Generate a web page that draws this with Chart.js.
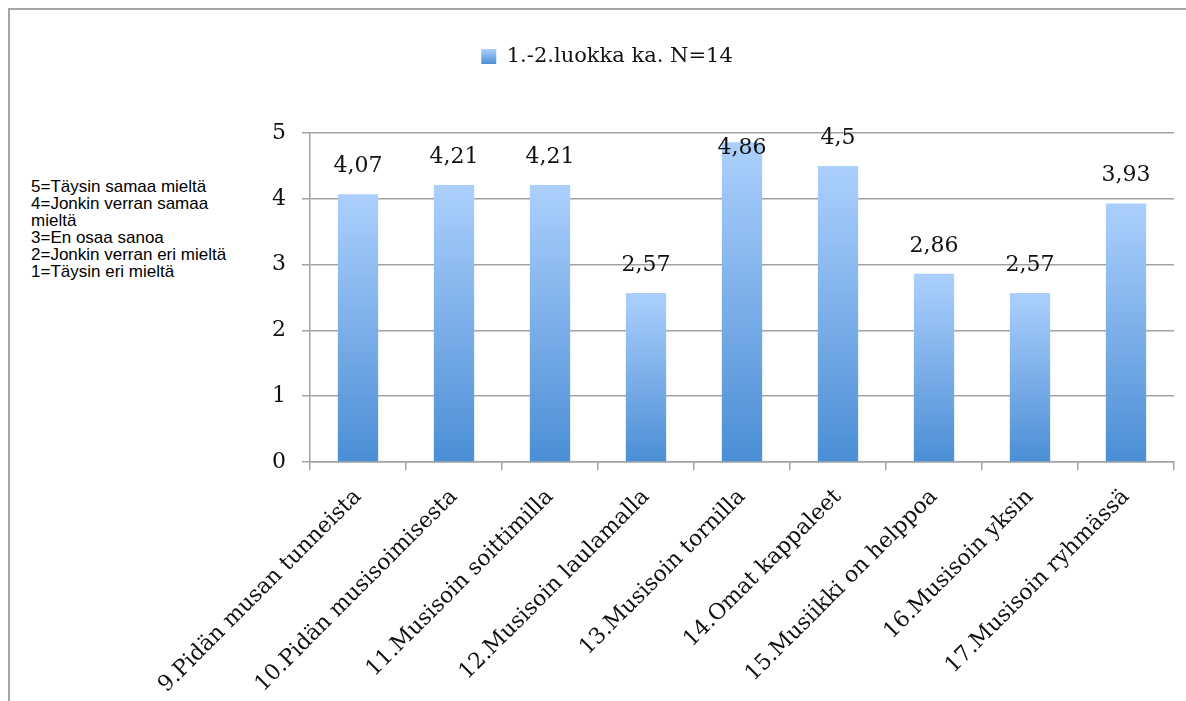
<!DOCTYPE html>
<html>
<head>
<meta charset="utf-8">
<script src="https://cdn.jsdelivr.net/npm/chart.js@4/dist/chart.umd.min.js"></script>
<style>
  html, body { margin: 0; padding: 0; background: #fff; }
  #wrap { position: relative; width: 1186px; height: 701px; overflow: hidden; }
  #frame { position: absolute; left: 8px; top: 8px; right: -10px; bottom: -10px;
           border-top: 2px solid #a6a6a6; border-left: 2px solid #a6a6a6; }
  #note { position: absolute; left: 31px; top: 178px; font-family: "Liberation Sans", Arial, sans-serif;
          font-size: 17px; line-height: 17px; color: #000; }
  canvas { position: absolute; left: 0; top: 0; }
</style>
</head>
<body>
<div id="wrap">
  <div id="frame"></div>
  <div id="note">
    5=Täysin samaa mieltä<br>
    4=Jonkin verran samaa<br>
    mieltä<br>
    3=En osaa sanoa<br>
    2=Jonkin verran eri mieltä<br>
    1=Täysin eri mieltä
  </div>
  <canvas id="chart" width="1186" height="701"></canvas>
</div>
<script>
// kysymykset ja keskiarvot (1.-2. luokka, N=14)
const categories = [
  '9.Pidän musan tunneista',
  '10.Pidän musisoimisesta',
  '11.Musisoin soittimilla',
  '12.Musisoin laulamalla',
  '13.Musisoin tornilla',
  '14.Omat kappaleet',
  '15.Musiikki on helppoa',
  '16.Musisoin yksin',
  '17.Musisoin ryhmässä'
];
const averages = [4.07, 4.21, 4.21, 2.57, 4.86, 4.5, 2.86, 2.57, 3.93];
const seriesName = '1.-2.luokka ka. N=14';
const yTicks = [0, 1, 2, 3, 4, 5];

const serif = '"DejaVu Serif", "Liberation Serif", serif';
const gridColor = '#a3a3a3';

function barGradient(ctx) {
  const chart = ctx.chart;
  if (ctx.type !== 'data' || !chart.chartArea) return '#7fb0ea';
  const y = chart.scales.y;
  const top = y.getPixelForValue(ctx.raw);
  const bottom = y.getPixelForValue(0);
  const g = chart.ctx.createLinearGradient(0, top, 0, bottom);
  g.addColorStop(0, '#acd0fd');
  g.addColorStop(1, '#4b8ed5');
  return g;
}

// arvot pylväiden päälle (4,07 jne.), ei yli kuvaajan yläreunan
const valueLabels = {
  id: 'valueLabels',
  afterDatasetsDraw(chart) {
    const c = chart.ctx;
    const meta = chart.getDatasetMeta(0);
    const areaTop = chart.chartArea.top;
    c.save();
    c.font = '22px ' + serif;
    c.fillStyle = '#111';
    c.textAlign = 'center';
    c.textBaseline = 'middle';
    meta.data.forEach((bar, i) => {
      const txt = String(averages[i]).replace('.', ',');
      let y = bar.y - 28;
      if (y < areaTop) y = areaTop + 15;
      c.fillText(txt, bar.x, y);
    });
    c.restore();
  }
};

// legendin korkeus niin että kuvaaja alkaa oikeasta kohdasta
const legendSpace = {
  id: 'legendSpace',
  beforeInit(chart) {
    const origFit = chart.legend.fit;
    chart.legend.fit = function () {
      origFit.call(this);
      this.height = 133;
    };
  }
};

new Chart(document.getElementById('chart'), {
  type: 'bar',
  data: {
    labels: categories,
    datasets: [{
      label: seriesName,
      data: averages,
      backgroundColor: barGradient,
      borderWidth: 0,
      barPercentage: 0.42,
      categoryPercentage: 1
    }]
  },
  options: {
    responsive: false,
    animation: false,
    events: [],
    layout: { padding: { left: 40, right: 12, top: 0, bottom: 0 } },
    plugins: {
      tooltip: { enabled: false },
      legend: {
        position: 'top',
        labels: {
          color: '#111',
          font: { family: serif, size: 21 },
          boxWidth: 15,
          boxHeight: 15,
          padding: 46,
          generateLabels(chart) {
            const items = Chart.defaults.plugins.legend.labels.generateLabels(chart);
            const g = chart.ctx.createLinearGradient(0, 49, 0, 64);
            g.addColorStop(0, '#acd0fd');
            g.addColorStop(1, '#4b8ed5');
            items.forEach(it => { it.fillStyle = g; it.lineWidth = 0; it.strokeStyle = 'rgba(0,0,0,0)'; });
            return items;
          }
        }
      }
    },
    scales: {
      x: {
        afterFit(axis) { axis.height = 239; },
        grid: {
          offset: true,
          drawOnChartArea: false,
          drawTicks: true,
          tickLength: 8,
          color: gridColor,
          lineWidth: 1.5
        },
        border: { display: true, color: gridColor, width: 1.5 },
        ticks: {
          color: '#111',
          font: { family: serif, size: 22 },
          minRotation: 45,
          maxRotation: 45,
          autoSkip: false,
          padding: 14
        }
      },
      y: {
        min: 0,
        max: 5,
        afterFit(axis) { axis.width = 270; },
        afterBuildTicks(axis) { axis.ticks = yTicks.map(v => ({ value: v })); },
        grid: {
          color: gridColor,
          lineWidth: 1.5,
          drawTicks: true,
          tickLength: 8
        },
        border: { display: true, color: gridColor, width: 1.5 },
        ticks: {
          color: '#111',
          font: { family: serif, size: 22 },
          padding: 16
        }
      }
    }
  },
  plugins: [valueLabels, legendSpace]
});
</script>
</body>
</html>
